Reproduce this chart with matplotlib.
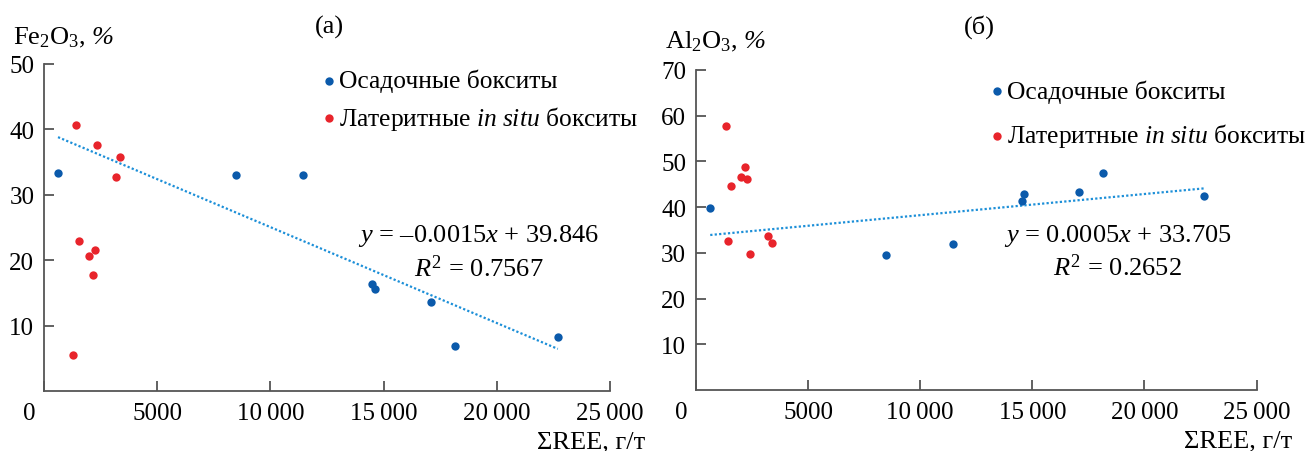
import matplotlib
matplotlib.use('Agg')
import matplotlib.pyplot as plt
import matplotlib.transforms as mtransforms
import numpy as np

plt.rcParams['font.family'] = ['Liberation Serif', 'DejaVu Serif']
plt.rcParams['mathtext.fontset'] = 'custom'
plt.rcParams['mathtext.rm'] = 'Liberation Serif'
plt.rcParams['mathtext.it'] = 'Liberation Serif:italic'
plt.rcParams['mathtext.sf'] = 'Liberation Serif:italic'  # for italic %

# (a) Fe2O3 vs sum REE
fe_sed_x = [620, 8480, 11460, 14490, 14620, 17100, 18150, 22700]
fe_sed_y = [33.3, 33.0, 33.1, 16.3, 15.6, 13.6, 6.9, 8.2]
fe_lat_x = [1420, 2350, 3340, 3170, 1530, 2240, 1980, 2170, 1270]
fe_lat_y = [40.7, 37.6, 35.8, 32.7, 22.9, 21.6, 20.7, 17.7, 5.5]

# (б) Al2O3 vs sum REE
al_sed_x = [640, 8480, 11480, 14520, 14630, 17100, 18170, 22660]
al_sed_y = [39.7, 29.5, 32.0, 41.4, 42.9, 43.4, 47.4, 42.4]
al_lat_x = [1340, 2210, 2020, 2280, 1580, 1450, 3220, 3390, 2410]
al_lat_y = [57.8, 48.8, 46.5, 46.2, 44.6, 32.5, 33.7, 32.1, 29.7]

xticks = [0, 5000, 10000, 15000, 20000, 25000]
xticklabels = ['0', '5000', '10\u2009000', '15\u2009000', '20\u2009000', '25\u2009000']

c_sed = '#0b5aab'
c_lat = '#e8242b'
c_trend = '#1c8fd8'
c_axis = '#555555'
fs = 19
fs_tick = 18
fs_leg = 18.4

fig = plt.figure(figsize=(13.13, 4.52), dpi=100)
ax1 = fig.add_axes([0.0335, 0.1327, 0.431, 0.7235])
ax2 = fig.add_axes([0.530, 0.135, 0.427, 0.708])


def draw(ax, sx, sy, lx, ly, ymax, ylab, tag, eq, r2, eqxy, legxy, lspace, txt_y):
    ax.scatter(sx, sy, s=36, color=c_sed, zorder=3, label='Осадочные бокситы', linewidths=0)
    ax.scatter(lx, ly, s=36, color=c_lat, zorder=3,
               label='Латеритные $\\mathit{in\\ situ}$ бокситы', linewidths=0)
    # linear trend through the sedimentary bauxites
    k, b = np.polyfit(sx, sy, 1)
    xx = np.array([min(sx), max(sx)])
    ax.plot(xx, k * xx + b, ls=(0, (1, 1)), color=c_trend, lw=1.6, zorder=2)
    ax.set_xlim(0, 25000)
    ax.set_ylim(0, ymax)
    ax.set_xticks(xticks)
    ax.set_xticklabels(xticklabels)
    ax.set_yticks(np.arange(10, ymax + 1, 10))
    for s in ['top', 'right']:
        ax.spines[s].set_visible(False)
    for s in ['left', 'bottom']:
        ax.spines[s].set_color(c_axis)
        ax.spines[s].set_linewidth(1.3)
    ax.tick_params(direction='in', length=7, width=1.3, color=c_axis,
                   labelsize=fs_tick, pad=7)
    ax.tick_params(axis='x', pad=8)
    # "0" label sits left of the axis
    lab0 = ax.get_xticklabels()[0]
    lab0.set_transform(lab0.get_transform() +
                       mtransforms.ScaledTranslation(-15 / 100, 0, fig.dpi_scale_trans))
    ax.text(-0.055, txt_y[0], ylab, transform=ax.transAxes, fontsize=fs, ha='left', va='center')
    ax.text(0.505, txt_y[1], tag, transform=ax.transAxes, fontsize=fs, ha='center', va='center')
    ax.text(1.063, txt_y[2], 'ΣREE, г/т', transform=ax.transAxes, fontsize=fs, ha='right', va='center')
    ax.text(eqxy[0], eqxy[1], eq, fontsize=fs, ha='center', va='center')
    ax.text(eqxy[0], eqxy[2], r2, fontsize=fs, ha='center', va='center')
    ax.legend(loc='upper left', bbox_to_anchor=legxy, frameon=False, fontsize=fs_leg,
              handletextpad=0.0, handlelength=0.8, labelspacing=lspace,
              borderaxespad=0, borderpad=0)


draw(ax1, fe_sed_x, fe_sed_y, fe_lat_x, fe_lat_y, 50, r'Fe$_2$O$_3$, $\mathsf{\%}$', '(а)',
     r'$y$ = –0.0015$x$ + 39.846', r'$R^2$ = 0.7567', (19200, 23.8, 18.9),
     (0.485, 0.985), 0.45, (1.083, 1.116, -0.153))
draw(ax2, al_sed_x, al_sed_y, al_lat_x, al_lat_y, 70, r'Al$_2$O$_3$, $\mathsf{\%}$', '(б)',
     r'$y$ = 0.0005$x$ + 33.705', r'$R^2$ = 0.2652', (18800, 34.0, 27.0),
     (0.518, 0.97), 0.72, (1.09, 1.1375, -0.159))

fig.savefig('out.png', dpi=100)
